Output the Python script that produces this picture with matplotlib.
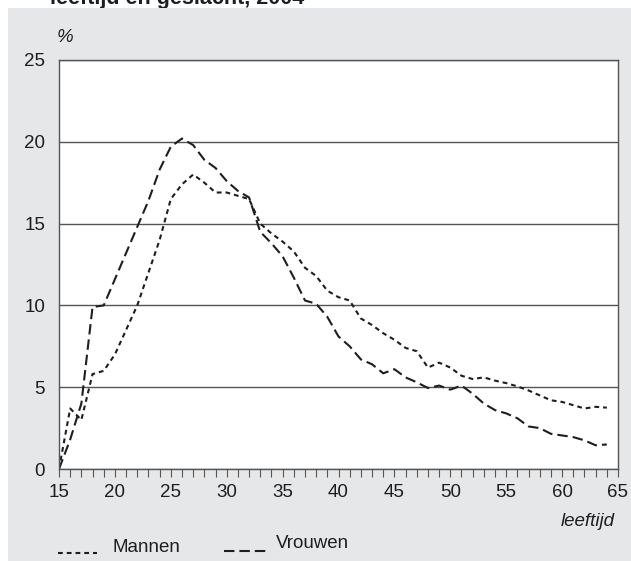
import matplotlib.pyplot as plt
import matplotlib.patches as mpatches
from matplotlib.lines import Line2D
from matplotlib.ticker import MultipleLocator

plt.rcParams['font.family'] = ['Liberation Sans', 'DejaVu Sans']

# --- data (share of age group, %) ---
ages = list(range(15, 65))
mannen = [0.0, 3.7, 3.0, 5.8, 6.0, 7.0, 8.5, 10.0, 12.0, 14.0,
          16.5, 17.4, 18.0, 17.5, 16.9, 16.9, 16.7, 16.5, 15.0, 14.4,
          13.9, 13.3, 12.3, 11.8, 10.9, 10.5, 10.3, 9.2, 8.8, 8.3,
          7.9, 7.4, 7.2, 6.2, 6.5, 6.2, 5.7, 5.5, 5.6, 5.4,
          5.25, 5.05, 4.8, 4.5, 4.2, 4.1, 3.9, 3.7, 3.8, 3.75]
vrouwen = [0.0, 1.8, 4.0, 9.9, 10.0, 11.6, 13.2, 14.8, 16.4, 18.3,
           19.7, 20.2, 19.8, 18.9, 18.4, 17.6, 17.0, 16.6, 14.5, 13.8,
           13.0, 11.7, 10.3, 10.1, 9.3, 8.1, 7.5, 6.7, 6.4, 5.85,
           6.1, 5.6, 5.3, 4.95, 5.1, 4.85, 5.1, 4.6, 4.0, 3.6,
           3.4, 3.1, 2.6, 2.5, 2.15, 2.05, 1.95, 1.75, 1.45, 1.5]
xticks = list(range(15, 70, 5))
yticks = [0, 5, 10, 15, 20, 25]

bg = '#e6e7e8'
ink = '#1e1e1e'
grid_col = '#555555'
W, H = 631, 561
fs = 13.5

fig = plt.figure(figsize=(W / 100, H / 100), dpi=100)
fig.patch.set_facecolor('white')
# grey panel behind the chart
fig.patches.append(mpatches.Rectangle((8 / W, 0), 1, 1 - 8 / H, transform=fig.transFigure,
                                      facecolor=bg, edgecolor='none', zorder=-5))
# cut-off title at the very top
fig.text(50 / W, 1 - 4 / H, 'leeftijd en geslacht, 2004', fontsize=15.5,
         fontweight='bold', ha='left', va='baseline', color=ink, zorder=-6)

ax = fig.add_axes([59 / W, 92 / H, 559 / W, 409 / H])
ax.set_facecolor('white')

dash_m = (2.3, 1.9)
dash_v = (5, 2.4)
ax.plot(ages, mannen, color=ink, lw=1.5, dashes=dash_m)
ax.plot(ages, vrouwen, color=ink, lw=1.5, dashes=dash_v)

ax.set_xlim(15, 65)
ax.set_ylim(0, 25)
ax.set_xticks(xticks)
ax.xaxis.set_minor_locator(MultipleLocator(1))
ax.set_yticks(yticks)
ax.yaxis.grid(True, color=grid_col, lw=1)
ax.set_axisbelow(True)
ax.tick_params(axis='x', which='both', direction='out', length=6, width=0.8,
               color=grid_col, labelsize=fs, pad=5, labelcolor=ink)
ax.tick_params(axis='y', length=0, labelsize=fs, pad=10, labelcolor=ink)
for s in ax.spines.values():
    s.set_color(grid_col)
    s.set_linewidth(1)

fig.text(65 / W, 1 - 37 / H, '%', fontsize=fs, style='italic', ha='center', va='center', color=ink)
fig.text(615 / W, 1 - 522 / H, 'leeftijd', fontsize=fs, style='italic', ha='right', va='center', color=ink)

# legend drawn by hand under the x-axis
fig.add_artist(Line2D([58 / W, 97 / W], [1 - 553 / H] * 2, transform=fig.transFigure,
                      color=ink, lw=1.5, dashes=dash_m))
fig.text(113 / W, 1 - 547 / H, 'Mannen', fontsize=fs, ha='left', va='center', color=ink)
fig.add_artist(Line2D([224 / W, 268 / W], [1 - 551 / H] * 2, transform=fig.transFigure,
                      color=ink, lw=1.5, dashes=dash_v))
fig.text(276 / W, 1 - 543 / H, 'Vrouwen', fontsize=fs, ha='left', va='center', color=ink)

fig.savefig('out.png', dpi=100, facecolor=fig.get_facecolor())
